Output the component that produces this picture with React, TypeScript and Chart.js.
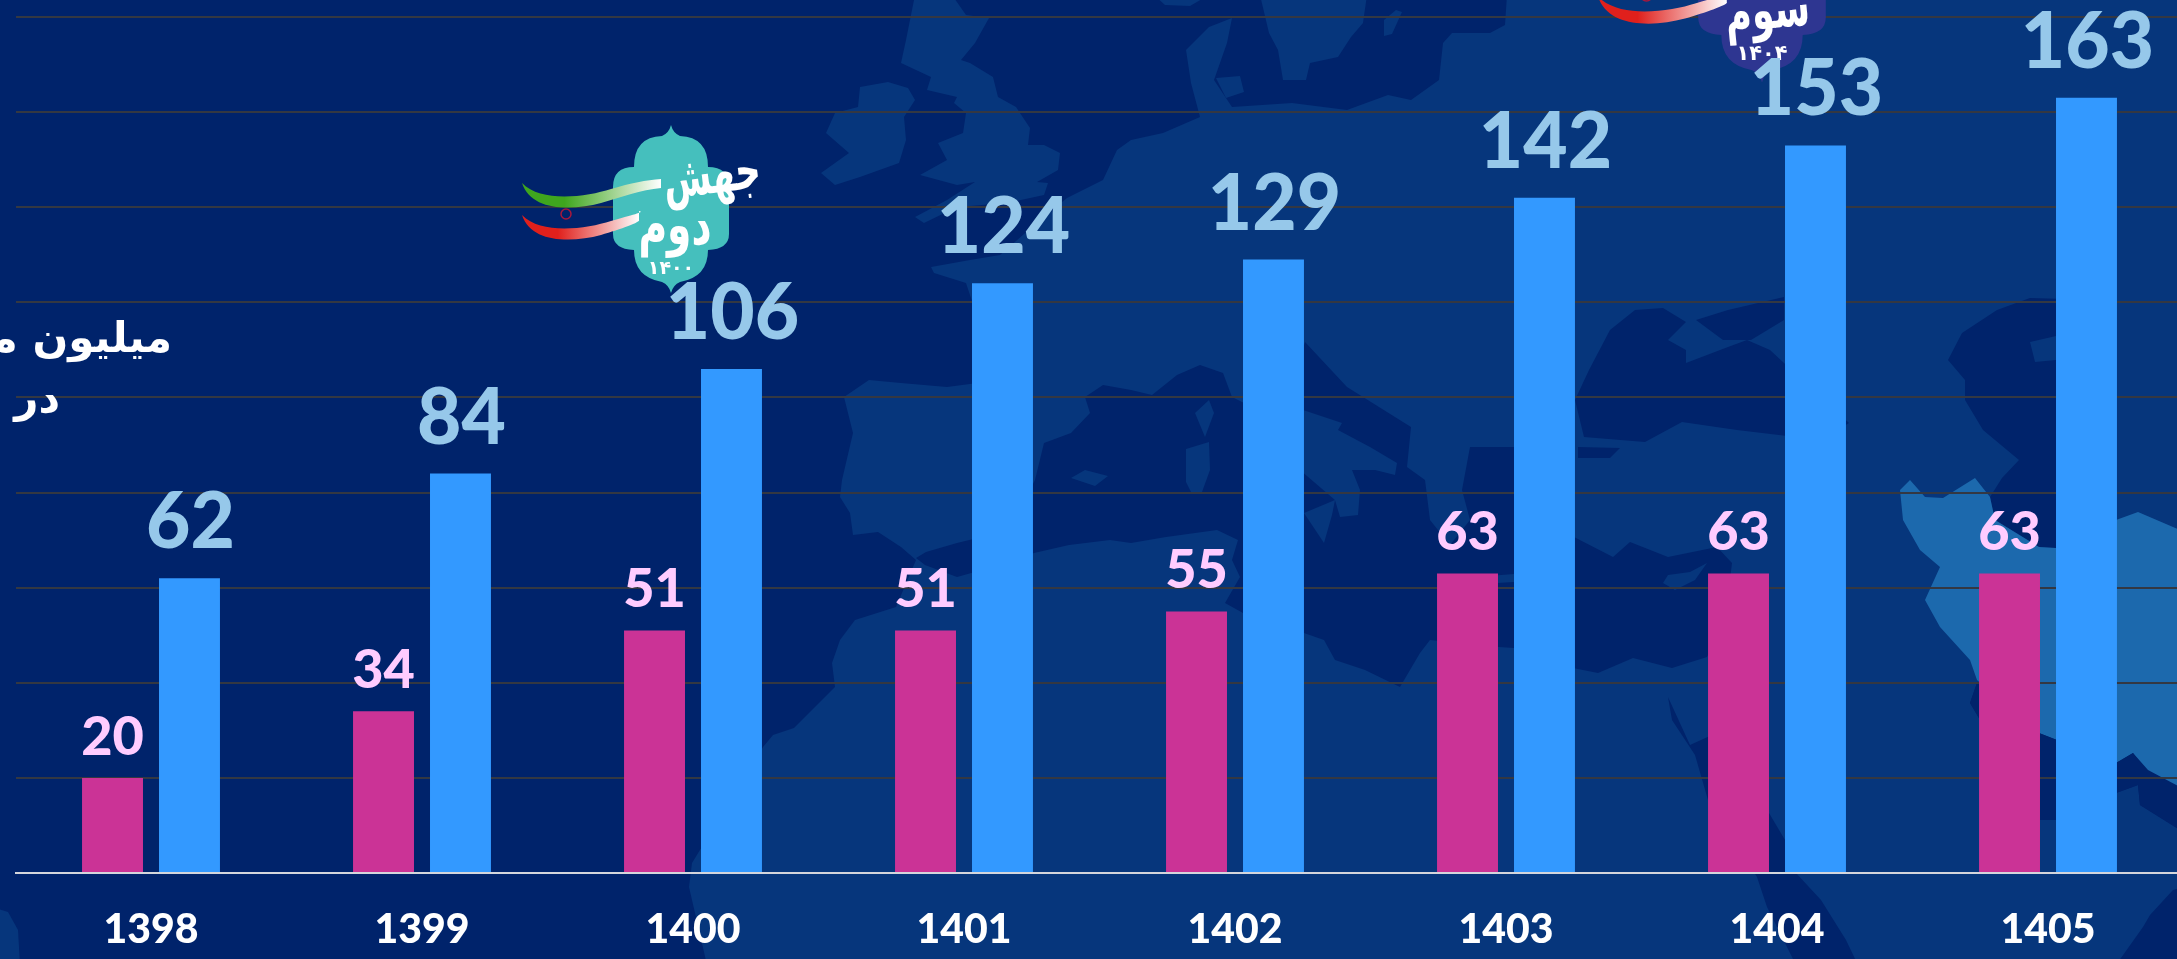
import React, { useEffect, useRef } from "react";
import { Chart, registerables } from "chart.js";

Chart.register(...registerables);

// ---- data ----
const years = ["1398", "1399", "1400", "1401", "1402", "1403", "1404", "1405"];
const pinkValues = [20, 34, 51, 51, 55, 63, 63, 63];
const blueValues = [62, 84, 106, 124, 129, 142, 153, 163];
const unitLine1 = "میلیون م\u200d";
const unitLine2 = "در";

// ---- colours ----
const SEA = "#00236B";
const LAND = "#06367C";
const IRAN = "#1C69AD";
const PINK = "#CB3396";
const BLUE = "#3399FF";
const PINK_LABEL = "#FFCCFF";
const BLUE_LABEL = "#96C8EA";

// ---- decorative backdrop map (page pixels) ----
type P = number[][];
const atlantic: P = [[-5,-5],[-5,965],[707,965],[689,887],[692,863],[763,747],[773,735],[794,728],[835,687],[832,663],[840,640],[855,620],[896,607],[916,560],[901,547],[878,532],[853,535],[850,513],[840,497],[842,480],[853,433],[844,397],[869,380],[901,383],[947,387],[985,382],[985,340],[966,283],[934,273],[931,267],[970,260],[1000,255],[1040,220],[1067,198],[1103,180],[1117,150],[1131,140],[1163,133],[1200,117],[1191,83],[1186,50],[1209,27],[1232,18],[1227,43],[1214,80],[1232,107],[1292,103],[1347,110],[1388,95],[1411,100],[1439,80],[1443,43],[1452,33],[1490,33],[1505,25],[1507,-5]];
const mediterranean: P = [[916,558],[926,552],[957,543],[990,535],[1020,510],[1035,480],[1044,443],[1071,433],[1090,413],[1085,397],[1103,385],[1131,390],[1152,395],[1177,375],[1200,365],[1223,373],[1232,397],[1244,403],[1270,440],[1300,470],[1335,500],[1340,517],[1358,515],[1360,490],[1352,470],[1375,470],[1395,475],[1397,463],[1370,447],[1338,430],[1342,423],[1303,410],[1290,390],[1305,342],[1347,387],[1411,427],[1407,467],[1425,480],[1430,520],[1450,545],[1470,520],[1462,490],[1470,447],[1514,447],[1560,447],[1540,480],[1574,537],[1613,557],[1630,542],[1668,557],[1717,547],[1732,563],[1725,620],[1707,657],[1672,668],[1633,658],[1598,673],[1573,668],[1514,648],[1499,647],[1430,640],[1420,653],[1400,687],[1365,670],[1335,660],[1324,640],[1304,633],[1243,613],[1225,603],[1240,577],[1232,560],[1238,540],[1217,530],[1166,537],[1131,543],[1110,540],[1069,545],[1034,553],[1000,565],[957,577],[925,565]];
const blackSea: P = [[1575,400],[1589,370],[1610,330],[1635,310],[1663,308],[1686,322],[1668,340],[1686,350],[1686,363],[1728,347],[1747,340],[1770,350],[1784,363],[1849,423],[1821,440],[1737,430],[1682,422],[1645,442],[1584,437]];
const azov: P = [[1696,320],[1728,310],[1784,297],[1784,320],[1751,340],[1723,340]];
const marmara: P = [[1578,447],[1620,448],[1610,458],[1578,458]];
const caspian: P = [[1948,360],[1962,333],[1997,310],[2030,298],[2100,300],[2100,548],[2056,548],[2039,547],[1995,520],[1990,497],[2002,478],[2019,460],[1995,440],[1983,430],[1965,400],[1965,380]];
const redSea: P = [[1668,697],[1672,720],[1695,755],[1708,800],[1757,877],[1767,907],[1796,965],[1858,965],[1846,940],[1821,900],[1796,873],[1785,840],[1769,813],[1735,780],[1712,735],[1690,745]];
const persianGulf: P = [[1970,703],[1977,683],[2039,733],[2116,763],[2133,753],[2148,770],[2180,787],[2180,830],[2140,805],[2138,785],[2116,793],[2056,820],[2039,820],[2010,770]];
const arabianSea: P = [[2180,888],[2173,890],[2150,915],[2143,927],[2116,965],[2180,965]];
const seaShapes = [atlantic, mediterranean, blackSea, azov, marmara, caspian, redSea, persianGulf, arabianSea];

const britain: P = [[915,-5],[906,40],[901,63],[931,77],[927,90],[957,97],[954,103],[966,113],[963,133],[938,143],[947,160],[920,175],[957,185],[975,182],[947,200],[915,217],[924,223],[957,207],[1007,203],[1044,195],[1048,183],[1037,182],[1058,170],[1060,153],[1044,145],[1028,145],[1030,128],[1016,107],[998,97],[993,77],[970,63],[961,60],[975,43],[989,18],[966,15],[952,-5]];
const ireland: P = [[860,87],[888,82],[908,88],[915,100],[904,117],[906,140],[899,163],[860,177],[835,185],[821,173],[849,153],[826,133],[835,113],[858,107]];
const scandinavia: P = [[1260,-5],[1269,33],[1278,50],[1283,80],[1306,80],[1310,63],[1338,57],[1351,37],[1363,23],[1367,-5]];
const norwayTip: P = [[1154,-5],[1165,5],[1190,6],[1209,-5]];
const gotland: P = [[1384,20],[1396,10],[1402,12],[1392,34],[1384,36]];
const zealand: P = [[1216,78],[1240,76],[1244,92],[1226,98]];
const corsica: P = [[1209,400],[1195,413],[1205,437],[1214,413]];
const sardinia: P = [[1209,442],[1186,449],[1186,482],[1192,494],[1202,492],[1210,470]];
const sicily: P = [[1304,513],[1335,500],[1332,515],[1324,543]];
const mallorca: P = [[1071,478],[1085,470],[1108,476],[1095,486]];
const crete: P = [[1475,577],[1514,574],[1514,582],[1480,584]];
const cyprus: P = [[1663,583],[1668,575],[1690,572],[1707,563],[1695,580],[1675,590]];
const cornerBlob: P = [[-5,908],[8,912],[18,930],[20,965],[-5,965]];
const mangyshlak: P = [[2030,342],[2056,336],[2056,360],[2035,362]];
const landShapes = [britain, ireland, scandinavia, norwayTip, gotland, zealand, corsica, sardinia, sicily, mallorca, crete, cyprus, cornerBlob, mangyshlak];
const iran: P = [[1900,490],[1910,480],[1925,497],[1943,498],[1975,478],[1990,497],[1995,520],[2039,547],[2056,548],[2116,520],[2138,512],[2180,530],[2180,787],[2153,780],[2133,753],[2116,763],[2039,733],[1977,680],[1970,660],[1940,627],[1925,600],[1940,567],[1920,550],[1903,520]];

function poly(ctx: CanvasRenderingContext2D, pts: P, color: string) {
  ctx.beginPath();
  pts.forEach((p, i) => (i ? ctx.lineTo(p[0], p[1]) : ctx.moveTo(p[0], p[1])));
  ctx.closePath();
  ctx.fillStyle = color;
  ctx.fill();
}

// left half of the badge: control x, control y, end x, end y
const badgeLobes: P = [[-2,-76,-9,-73],[-37,-72,-37,-42],[-58,-42,-58,-22],[-58,0,-58,25],[-58,40,-37,41],[-37,68,-9,73],[-2,76,0,84]];

type Word = { t: string; x: number; y: number; s: number; r: number; sx: number };

function drawBadge(ctx: CanvasRenderingContext2D, cx: number, cy: number, k: number, color: string, words: Word[], year: string, yearY: number) {
  ctx.save();
  ctx.translate(cx, cy);
  ctx.scale(k, k);
  const ribbon = (y0: number, c: string, endX: number) => {
    const g = ctx.createLinearGradient(-148, 0, endX, 0);
    g.addColorStop(0, c);
    g.addColorStop(0.3, c);
    g.addColorStop(1, "#FFFFFF");
    ctx.beginPath();
    ctx.moveTo(-149, y0);
    ctx.bezierCurveTo(-130, y0 + 20, -85, y0 + 14, -60, y0 + 6);
    ctx.bezierCurveTo(-40, y0, -25, y0 - 3, endX, y0 - 4);
    ctx.lineTo(endX, y0 + 5);
    ctx.bezierCurveTo(-30, y0 + 7, -50, y0 + 14, -70, y0 + 20);
    ctx.bezierCurveTo(-100, y0 + 28, -140, y0 + 28, -149, y0);
    ctx.closePath();
    ctx.fillStyle = g;
    ctx.fill();
  };
  ctx.beginPath();
  ctx.moveTo(0, -84);
  badgeLobes.forEach((s) => ctx.quadraticCurveTo(s[0], s[1], s[2], s[3]));
  for (let i = badgeLobes.length - 1; i >= 0; i--) {
    const s = badgeLobes[i];
    const end = i > 0 ? [badgeLobes[i - 1][2], badgeLobes[i - 1][3]] : [0, -84];
    ctx.quadraticCurveTo(-s[0], s[1], -end[0], end[1]);
  }
  ctx.closePath();
  ctx.fillStyle = color;
  ctx.fill();
  ribbon(-26, "#3FA61E", -10);
  ribbon(6, "#E0201C", -32);
  ctx.strokeStyle = "#A8183C";
  ctx.lineWidth = 1.5;
  ctx.beginPath();
  ctx.arc(-105, 5, 5, 0, Math.PI * 2);
  ctx.stroke();
  ctx.fillStyle = "#FFFFFF";
  ctx.textAlign = "center";
  ctx.textBaseline = "middle";
  ctx.direction = "rtl";
  for (const w of words) {
    ctx.save();
    ctx.translate(w.x, w.y);
    ctx.rotate(w.r);
    ctx.scale(w.sx, 1);
    ctx.font = `bold ${w.s}px "DejaVu Sans"`;
    ctx.fillText(w.t, 0, 0);
    ctx.restore();
  }
  ctx.font = `bold 19px "DejaVu Sans"`;
  ctx.fillText(year, 0, yearY);
  ctx.restore();
}

const backdrop = {
  id: "backdrop",
  beforeDraw(chart: any) {
    const ctx: CanvasRenderingContext2D = chart.ctx;
    ctx.save();
    ctx.fillStyle = LAND;
    ctx.fillRect(0, 0, chart.width, chart.height);
    seaShapes.forEach((s) => poly(ctx, s, SEA));
    landShapes.forEach((s) => poly(ctx, s, LAND));
    poly(ctx, iran, IRAN);
    poly(ctx, persianGulf, SEA);
    ctx.restore();
  },
};

const overlays = {
  id: "overlays",
  afterDatasetsDraw(chart: any) {
    const ctx: CanvasRenderingContext2D = chart.ctx;
    ctx.save();
    drawBadge(ctx, 671, 209, 1, "#45BFBD", [
      { t: "جهش", x: 41, y: -30, s: 54, r: -0.12, sx: 0.65 },
      { t: "دوم", x: 4, y: 20, s: 56, r: 0, sx: 0.7 },
    ], "۱۴۰۰", 60);
    drawBadge(ctx, 1762, -10, 1.1, "#2E3691", [
      { t: "سوم", x: 5, y: 22, s: 50, r: -0.1, sx: 0.66 },
    ], "۱۴۰۴", 59);

    // value labels, anchored on the bars themselves
    ctx.textAlign = "center";
    ctx.textBaseline = "alphabetic";
    ctx.direction = "ltr";
    const pink = chart.getDatasetMeta(0).data;
    ctx.fillStyle = PINK_LABEL;
    ctx.font = `900 54px Lato`;
    pinkValues.forEach((v, i) => ctx.fillText(String(v), pink[i].x, pink[i].y - 23));
    const blue = chart.getDatasetMeta(1).data;
    ctx.fillStyle = BLUE_LABEL;
    ctx.font = `900 79px Lato`;
    blueValues.forEach((v, i) => {
      ctx.save();
      ctx.translate(blue[i].x + 1, blue[i].y - 30);
      ctx.scale(0.97, 1);
      ctx.fillText(String(v), 0, 0);
      ctx.restore();
    });

    // unit note, cut by the left edge as in the picture
    ctx.fillStyle = "#FFFFFF";
    ctx.font = `bold 42px "DejaVu Sans"`;
    ctx.direction = "rtl";
    ctx.textAlign = "right";
    ctx.fillText(unitLine1, 172, 352);
    ctx.fillText(unitLine2, 60, 412);
    ctx.restore();
  },
};

export default function App() {
  const ref = useRef<HTMLCanvasElement>(null);
  useEffect(() => {
    if (!ref.current) return;
    const chart = new Chart(ref.current, {
      type: "bar",
      data: {
        labels: years,
        datasets: [
          { data: pinkValues, backgroundColor: PINK, categoryPercentage: 0.568, barPercentage: 0.792 },
          { data: blueValues, backgroundColor: BLUE, categoryPercentage: 0.568, barPercentage: 0.792 },
        ],
      },
      options: {
        responsive: false,
        animation: false,
        devicePixelRatio: 1,
        layout: { padding: { left: 15.5, right: 16.5, top: 17, bottom: 0 } },
        plugins: { legend: { display: false }, title: { display: false }, tooltip: { enabled: false } },
        scales: {
          x: {
            grid: { display: false },
            border: { display: true, color: "#D4D6DC", width: 2 },
            afterFit(scale: any) { scale.height = 86; },
            ticks: { color: "#FFFFFF", padding: 24, maxRotation: 0, font: { family: "Lato", weight: "900", size: 41 } },
          },
          y: {
            min: 0,
            max: 180,
            afterFit(scale: any) { scale.width = 0; },
            ticks: { display: false, stepSize: 20 },
            border: { display: false },
            grid: { color: "#343842", lineWidth: 2, drawTicks: false },
          },
        },
      },
      plugins: [backdrop, overlays],
    } as any);
    return () => chart.destroy();
  }, []);
  return (
    <div style={{ position: "fixed", left: 0, top: 0, width: 2177, height: 959, overflow: "hidden", background: SEA }}>
      <canvas ref={ref} width={2200} height={959} style={{ display: "block" }} />
    </div>
  );
}
